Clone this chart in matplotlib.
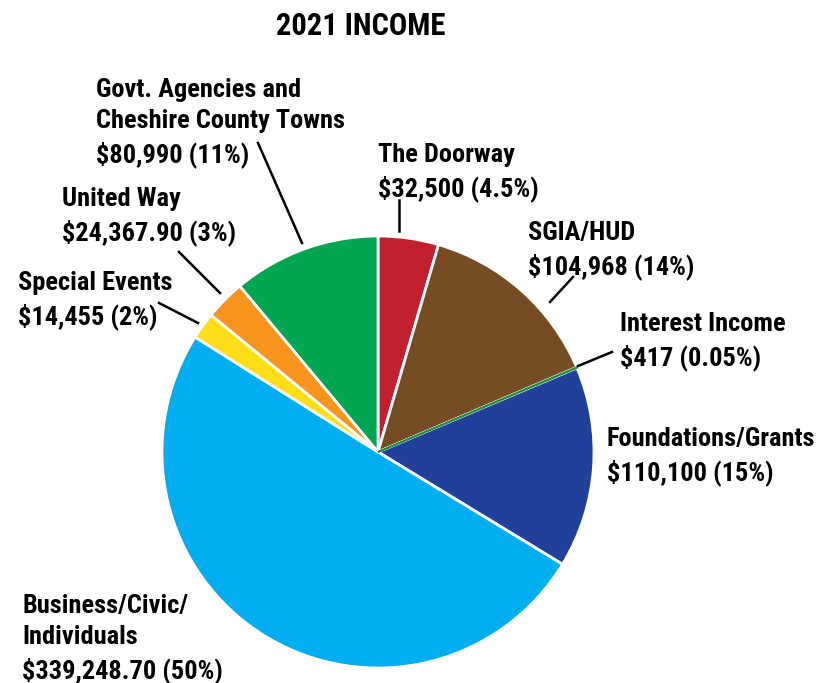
import matplotlib.pyplot as plt
from matplotlib import font_manager

# data (clockwise from 12 o'clock)
sources = ["The Doorway", "SGIA/HUD", "Interest Income", "Foundations/Grants",
           "Business/Civic/\nIndividuals", "Special Events", "United Way",
           "Govt. Agencies and\nCheshire County Towns"]
amounts = ["$32,500", "$104,968", "$417", "$110,100", "$339,248.70",
           "$14,455", "$24,367.90", "$80,990"]
shares = [4.5, 14, 0.05, 15, 50, 2, 3, 11]   # percent, as printed
colors = ["#C1202F", "#754C24", "#1E8C3E", "#21409A",
          "#00AEEF", "#FFDE17", "#F7941D", "#00A651"]

labels = [f"{s}\n{a} ({p:g}%)" for s, a, p in zip(sources, amounts, shares)]

W, H = 817, 683

# narrow bold face if one is there, else plain Liberation Sans a bit smaller
installed = {f.name for f in font_manager.fontManager.ttflist}
narrow = [n for n in ["Liberation Sans Narrow", "Roboto Condensed",
                      "Open Sans Condensed", "Arial Narrow"] if n in installed]
if narrow:
    plt.rcParams['font.family'] = [narrow[0], 'DejaVu Sans']
    lab_size, title_size = 19, 22
else:
    plt.rcParams['font.family'] = ['Liberation Sans', 'DejaVu Sans']
    lab_size, title_size = 14.5, 17

fig = plt.figure(figsize=(W / 100, H / 100), dpi=100)

cx, cy, r = 378, 452, 216
ax = fig.add_axes([(cx - r) / W, (H - cy - r) / H, 2 * r / W, 2 * r / H])
wedges, _ = ax.pie(shares, colors=colors, startangle=90, counterclock=False,
                   radius=1, wedgeprops=dict(edgecolor="white", linewidth=2))
# tiny interest slice: outline in its own colour so it stays visible
wedges[2].set_edgecolor(colors[2])
wedges[2].set_linewidth(1.2)
wedges[2].set_zorder(5)
ax.set_xlim(-1, 1)
ax.set_ylim(-1, 1)
ax.set_aspect("equal")
ax.axis("off")

fig.text(361 / W, 1 - 26 / H, "2021 INCOME", ha="center", va="center",
         fontsize=title_size, fontweight="bold")

# label anchor (left, top of text), pixels from top-left
label_pos = [(378, 143), (528, 221), (620, 312), (607, 427),
             (22, 594), (18, 271), (62, 187), (96, 78)]
# leader lines (start, end), pixels from top-left; None = no line
leaders = [((399, 200), (399, 231)), ((573, 277), (550, 302)),
           ((612, 352), (578, 366)), None, None,
           ((159, 303), (198, 323)), ((179, 252), (220, 293)),
           ((258, 143), (302, 243))]

for lab, pos, ld in zip(labels, label_pos, leaders):
    fig.text(pos[0] / W, 1 - pos[1] / H, lab, ha="left", va="top",
             fontsize=lab_size, fontweight="bold", linespacing=1.37)
    if ld is not None:
        (x0, y0), (x1, y1) = ld
        fig.add_artist(plt.Line2D([x0 / W, x1 / W], [1 - y0 / H, 1 - y1 / H],
                                  transform=fig.transFigure, color="black",
                                  lw=1.8))

fig.savefig("out.png", dpi=100)
